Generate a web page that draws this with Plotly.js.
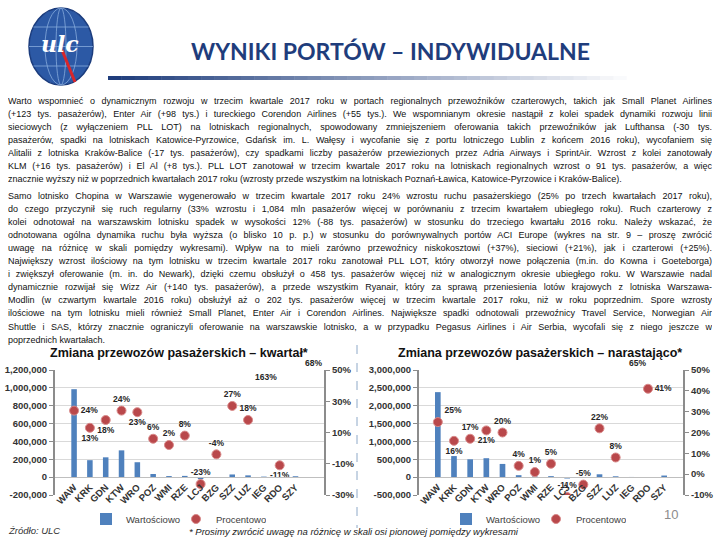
<!DOCTYPE html>
<html><head><meta charset="utf-8">
<script src="https://cdn.plot.ly/plotly-3.0.1.min.js"></script>
<style>
body{margin:0;background:#fff;}
#wrap{position:relative;width:720px;height:540px;overflow:hidden;background:#fff;}
#chart{position:absolute;left:0;top:0;width:720px;height:540px;}
.ln{position:absolute;left:8px;width:704px;font-family:'Liberation Sans',Arial,sans-serif;font-size:9px;line-height:11px;height:11px;color:#111;text-align:justify;text-align-last:justify;overflow:hidden;}
.last{text-align-last:left;}
</style></head><body>
<div id="wrap"><div id="chart"></div><div id="text"></div></div>
<script>
// ---------- DATA ----------
const categories = ['WAW','KRK','GDN','KTW','WRO','POZ','WMI','RZE','LCJ','BZG','SZZ','LUZ','IEG','RDO','SZY'];
const quarterValues = [985000,190000,222000,300000,167000,35000,12000,14000,-22000,-4000,30000,20000,6000,-1000,10000];
const quarterPercent = [24,13,18,24,23,6,2,8,-23,-4,27,18,163,-11,68];
const ytdValues = [2380000,590000,500000,530000,370000,55000,20000,28000,-38000,-15000,80000,24000,5000,3000,45000];
const ytdPercent = [25,16,17,21,20,4,1,5,-11,-5,22,8,65,41,null];

const quarterValueTicks = [-200000,0,200000,400000,600000,800000,1000000,1200000];
const quarterValueTickLabels = ['-200,000','0','200,000','400,000','600,000','800,000','1,000,000','1,200,000'];
const quarterPctTicks = [-30,-10,10,30,50];
const quarterPctTickLabels = ['-30%','-10%','10%','30%','50%'];
const ytdValueTicks = [-500000,0,500000,1000000,1500000,2000000,2500000,3000000];
const ytdValueTickLabels = ['-500,000','0','500,000','1,000,000','1,500,000','2,000,000','2,500,000','3,000,000'];
const ytdPctTicks = [-10,0,10,20,30,40,50];
const ytdPctTickLabels = ['-10%','0%','10%','20%','30%','40%','50%'];

const seriesNames = ['Wartościowo','Procentowo'];

const para1Lines = [
"Warto wspomnieć o dynamicznym rozwoju w trzecim kwartale 2017 roku w portach regionalnych przewoźników czarterowych, takich jak Small Planet Airlines",
"(+123 tys. pasażerów), Enter Air (+98 tys.) i tureckiego Corendon Airlines (+55 tys.). We wspomnianym okresie nastąpił z kolei spadek dynamiki rozwoju linii",
"sieciowych (z wyłączeniem PLL LOT) na lotniskach regionalnych, spowodowany zmniejszeniem oferowania takich przewoźników jak Lufthansa (-30 tys.",
"pasażerów, spadki na lotniskach Katowice-Pyrzowice, Gdańsk im. L. Wałęsy i wycofanie się z portu lotniczego Lublin z końcem 2016 roku), wycofaniem się",
"Alitalii z lotniska Kraków-Balice (-17 tys. pasażerów), czy spadkami liczby pasażerów przewiezionych przez Adria Airways i SprintAir. Wzrost z kolei zanotowały",
"KLM (+16 tys. pasażerów) i El Al (+8 tys.). PLL LOT zanotował w trzecim kwartale 2017 roku na lotniskach regionalnych wzrost o 91 tys. pasażerów, a więc",
"znacznie wyższy niż w poprzednich kwartałach 2017 roku (wzrosty przede wszystkim na lotniskach Poznań-Ławica, Katowice-Pyrzowice i Kraków-Balice)."
];
const para2Lines = [
"Samo lotnisko Chopina w Warszawie wygenerowało w trzecim kwartale 2017 roku 24% wzrostu ruchu pasażerskiego (25% po trzech kwartałach 2017 roku),",
"do czego przyczynił się ruch regularny (33% wzrostu i 1,084 mln pasażerów więcej w porównaniu z trzecim kwartałem ubiegłego roku). Ruch czarterowy z",
"kolei odnotował na warszawskim lotnisku spadek w wysokości 12% (-88 tys. pasażerów) w stosunku do trzeciego kwartału 2016 roku. Należy wskazać, że",
"odnotowana ogólna dynamika ruchu była wyższa (o blisko 10 p. p.) w stosunku do porównywalnych portów ACI Europe (wykres na str. 9 – proszę zwrócić",
"uwagę na różnicę w skali pomiędzy wykresami). Wpływ na to mieli zarówno przewoźnicy niskokosztowi (+37%), sieciowi (+21%), jak i czarterowi (+25%).",
"Największy wzrost ilościowy na tym lotnisku w trzecim kwartale 2017 roku zanotował PLL LOT, który otworzył nowe połączenia (m.in. do Kowna i Goeteborga)",
"i zwiększył oferowanie (m. in. do Newark), dzięki czemu obsłużył o 458 tys. pasażerów więcej niż w analogicznym okresie ubiegłego roku. W Warszawie nadal",
"dynamicznie rozwijał się Wizz Air (+140 tys. pasażerów), a przede wszystkim Ryanair, który za sprawą przeniesienia lotów krajowych z lotniska Warszawa-",
"Modlin (w czwartym kwartale 2016 roku) obsłużył aż o 202 tys. pasażerów więcej w trzecim kwartale 2017 roku, niż w roku poprzednim. Spore wzrosty",
"ilościowe na tym lotnisku mieli również Small Planet, Enter Air i Corendon Airlines. Największe spadki odnotowali przewoźnicy Travel Service, Norwegian Air",
"Shuttle i SAS, którzy znacznie ograniczyli oferowanie na warszawskie lotnisko, a w przypadku Pegasus Airlines i Air Serbia, wycofali się z niego jeszcze w",
"poprzednich kwartałach."
];

// ---------- LAYOUT HELPERS ----------
const W = 720, H = 540;
const px = x => x / W;
const py = y => 1 - y / H;

const textBox = document.getElementById('text');
function addLines(lines, top, step){
  lines.forEach((t,i)=>{
    const d = document.createElement('div');
    d.className = 'ln' + (i === lines.length-1 ? ' last' : '');
    d.style.top = (top + i*step - 5.5) + 'px';
    d.textContent = t;
    textBox.appendChild(d);
  });
}
addLines(para1Lines, 101, 13.1);
addLines(para2Lines, 196.5, 13.05);

const yDom = [py(495), py(370)];
const qRange = [-200000, 1200000];
const qPctRange = [-30, 50];
const yRange = [-500000, 3000000];
const yPctRange = [-10, 50];
const zeroPos = r => yDom[0] + (0 - r[0]) / (r[1] - r[0]) * (yDom[1] - yDom[0]);

const barColor = '#4F81BD';
const dotColor = '#B9484B';
const tickFont = {family:'Liberation Sans, Arial, sans-serif', size:9.5, color:'#333333', weight:'bold'};
const labelFont = {family:'Liberation Sans, Arial, sans-serif', size:8.5, color:'#262626', weight:'bold'};

const qPos = ['middle right','bottom center','bottom center','top center','bottom center','top center','top center','top center','top center','top center','top center','top center','top center','bottom center','top center'];
const yPos = ['top right','bottom center','top center','bottom center','top center','top center','top center','top center','top center','top center','top center','top center','top center','middle right','top center'];

const pctText = arr => arr.map(v => v === null ? '' : v + '%');

const traces = [
  {type:'bar', x:categories, y:quarterValues, xaxis:'x', yaxis:'y', name:seriesNames[0],
   marker:{color:barColor}, legend:'legend', hoverinfo:'skip'},
  {type:'scatter', mode:'markers+text', x:categories, y:quarterPercent, xaxis:'x', yaxis:'y2', name:seriesNames[1],
   marker:{color:dotColor, size:9, symbol:'circle', line:{color:'#D98A8A', width:1}},
   text:pctText(quarterPercent), textposition:qPos, textfont:labelFont, legend:'legend', hoverinfo:'skip'},
  {type:'bar', x:categories, y:ytdValues, xaxis:'x3', yaxis:'y3', name:seriesNames[0],
   marker:{color:barColor}, legend:'legend2', hoverinfo:'skip'},
  {type:'scatter', mode:'markers+text', x:categories, y:ytdPercent, xaxis:'x3', yaxis:'y4', name:seriesNames[1],
   marker:{color:dotColor, size:9, symbol:'circle', line:{color:'#D98A8A', width:1}},
   text:pctText(ytdPercent), textposition:yPos, textfont:labelFont, legend:'legend2', hoverinfo:'skip'}
];

function xAx(dom, pos){
  return {domain:dom, anchor:'free', position:pos, type:'category', tickangle:-45,
    tickfont:{family:'Liberation Sans, Arial, sans-serif', size:9.5, color:'#333333', weight:'bold'},
    showline:true, linecolor:'#bfbfbf', linewidth:1, ticks:'', showgrid:false, fixedrange:true};
}
function yLeft(range, tv, tt, anchor){
  return {domain:yDom, anchor:anchor, range:range, tickvals:tv, ticktext:tt, tickfont:tickFont,
    showline:true, linecolor:'#8c8c8c', linewidth:2, ticks:'outside', ticklen:4, tickcolor:'#8c8c8c',
    showgrid:true, gridcolor:'#d9d9d9', gridwidth:1, zeroline:false, fixedrange:true};
}
function yRight(range, tv, tt, anchor, over){
  return {overlaying:over, side:'right', anchor:anchor, range:range, tickvals:tv, ticktext:tt, tickfont:tickFont,
    showline:true, linecolor:'#8c8c8c', linewidth:2, ticks:'outside', ticklen:4, tickcolor:'#8c8c8c',
    showgrid:false, zeroline:false, fixedrange:true};
}

const ann = (text, x, y, font, extra) => Object.assign({text:text, x:px(x), y:py(y), xref:'paper', yref:'paper',
  showarrow:false, xanchor:'center', yanchor:'middle', font:font}, extra || {});

const annotations = [
  ann('WYNIKI PORTÓW – INDYWIDUALNE', 391, 51, {family:'Lato, Liberation Sans, sans-serif', size:23, color:'#1F3D7C', weight:'bold'}),
  ann('Zmiana przewozów pasażerskich – kwartał*', 179, 353, {family:'Liberation Sans, Arial, sans-serif', size:12.5, color:'#111', weight:'bold'}),
  ann('Zmiana przewozów pasażerskich – narastająco*', 540, 353, {family:'Liberation Sans, Arial, sans-serif', size:12.5, color:'#111', weight:'bold'}),
  ann('Źródło: ULC', 6, 530, {family:'Liberation Sans, Arial, sans-serif', size:9.5, color:'#333', style:'italic'}, {xanchor:'left'}),
  ann('* Prosimy zwrócić uwagę na różnicę w skali osi pionowej pomiędzy wykresami', 187, 531, {family:'Liberation Sans, Arial, sans-serif', size:9.5, color:'#222', style:'italic'}, {xanchor:'left'}),
  ann('10', 671, 514, {family:'Liberation Sans, Arial, sans-serif', size:13, color:'#8c8c8c'})
];
// labels of points above the axis range, clamped at the top edge of the plot
function offLabels(pcts, range, xref, shifts, anchors){
  pcts.forEach((v,i)=>{
    if (v !== null && v > range[1]) {
      annotations.push({text:v+'%', x:categories[i], xref:xref, y:yDom[1], yref:'paper', showarrow:false,
        xanchor:'center', xshift:shifts.shift(), yanchor:anchors.shift(), font:labelFont});
    }
  });
}
offLabels(quarterPercent, qPctRange, 'x', [2, 18], ['top','bottom']);
offLabels(ytdPercent, yPctRange, 'x3', [6], ['bottom']);

const shapes = [];
// logo
shapes.push({type:'circle', xref:'paper', yref:'paper', x0:px(29), x1:px(93), y0:py(85), y1:py(8),
  fillcolor:'#2C59A5', line:{color:'#1B3C7D', width:1.5}});
shapes.push({type:'circle', xref:'paper', yref:'paper', x0:px(45), x1:px(77), y0:py(85), y1:py(8),
  fillcolor:'rgba(0,0,0,0)', line:{color:'#86ABDC', width:0.8}});
shapes.push({type:'circle', xref:'paper', yref:'paper', x0:px(56), x1:px(66), y0:py(85), y1:py(8),
  fillcolor:'rgba(0,0,0,0)', line:{color:'#86ABDC', width:0.8}});
[[27,27.6],[46.5,32],[66,27.6]].forEach(([yy,hw])=>{
  shapes.push({type:'line', xref:'paper', yref:'paper', x0:px(61-hw), x1:px(61+hw), y0:py(yy), y1:py(yy),
    line:{color:'#86ABDC', width:0.8}});
});
shapes.push({type:'line', xref:'paper', yref:'paper', x0:px(62), y0:py(50), x1:px(75), y1:py(82),
  line:{color:'#D8262B', width:3}});
annotations.push(ann('<i>ulc</i>', 60, 44, {family:'DejaVu Serif, serif', size:22, color:'#ffffff', weight:'bold'}));
// gradient underline below the title
const seg = 40, gx0 = 108, gx1 = 640;
for (let i=0;i<seg;i++){
  const t = i/(seg-1);
  const r = Math.round(31 + (255-31)*t), g = Math.round(61 + (255-61)*t), b = Math.round(124 + (255-124)*t);
  shapes.push({type:'rect', xref:'paper', yref:'paper', x0:px(gx0 + (gx1-gx0)*i/seg), x1:px(gx0 + (gx1-gx0)*(i+1)/seg + 0.5),
    y0:py(80), y1:py(76), fillcolor:`rgb(${r},${g},${b})`, line:{width:0}});
}
// dashed separator between charts
shapes.push({type:'line', xref:'paper', yref:'paper', x0:px(357), x1:px(357), y0:py(345), y1:py(528),
  line:{color:'#8EA9C8', width:1, dash:'dash'}});

const legendBase = {orientation:'h', xanchor:'left', yanchor:'middle', bgcolor:'rgba(0,0,0,0)',
  font:{family:'Liberation Sans, Arial, sans-serif', size:9.5, color:'#404040'}, itemwidth:30, entrywidth:45, itemclick:false, itemdoubleclick:false};

const layout = {
  width:W, height:H, margin:{l:0,r:0,t:0,b:0}, paper_bgcolor:'rgba(0,0,0,0)', plot_bgcolor:'rgba(0,0,0,0)',
  font:{family:'Liberation Sans, Arial, sans-serif'},
  bargap:0.65, showlegend:true,
  xaxis: xAx([px(55), px(324)], zeroPos(qRange)),
  yaxis: yLeft(qRange, quarterValueTicks, quarterValueTickLabels, 'x'),
  yaxis2: yRight(qPctRange, quarterPctTicks, quarterPctTickLabels, 'x', 'y'),
  xaxis3: xAx([px(419), px(683)], zeroPos(yRange)),
  yaxis3: yLeft(yRange, ytdValueTicks, ytdValueTickLabels, 'x3'),
  yaxis4: yRight(yPctRange, ytdPctTicks, ytdPctTickLabels, 'x3', 'y3'),
  legend: Object.assign({}, legendBase, {x:px(86), y:py(519)}),
  legend2: Object.assign({}, legendBase, {x:px(446), y:py(519)}),
  annotations: annotations, shapes: shapes
};

Plotly.newPlot('chart', traces, layout, {staticPlot:true, displayModeBar:false});
</script>
</body></html>
